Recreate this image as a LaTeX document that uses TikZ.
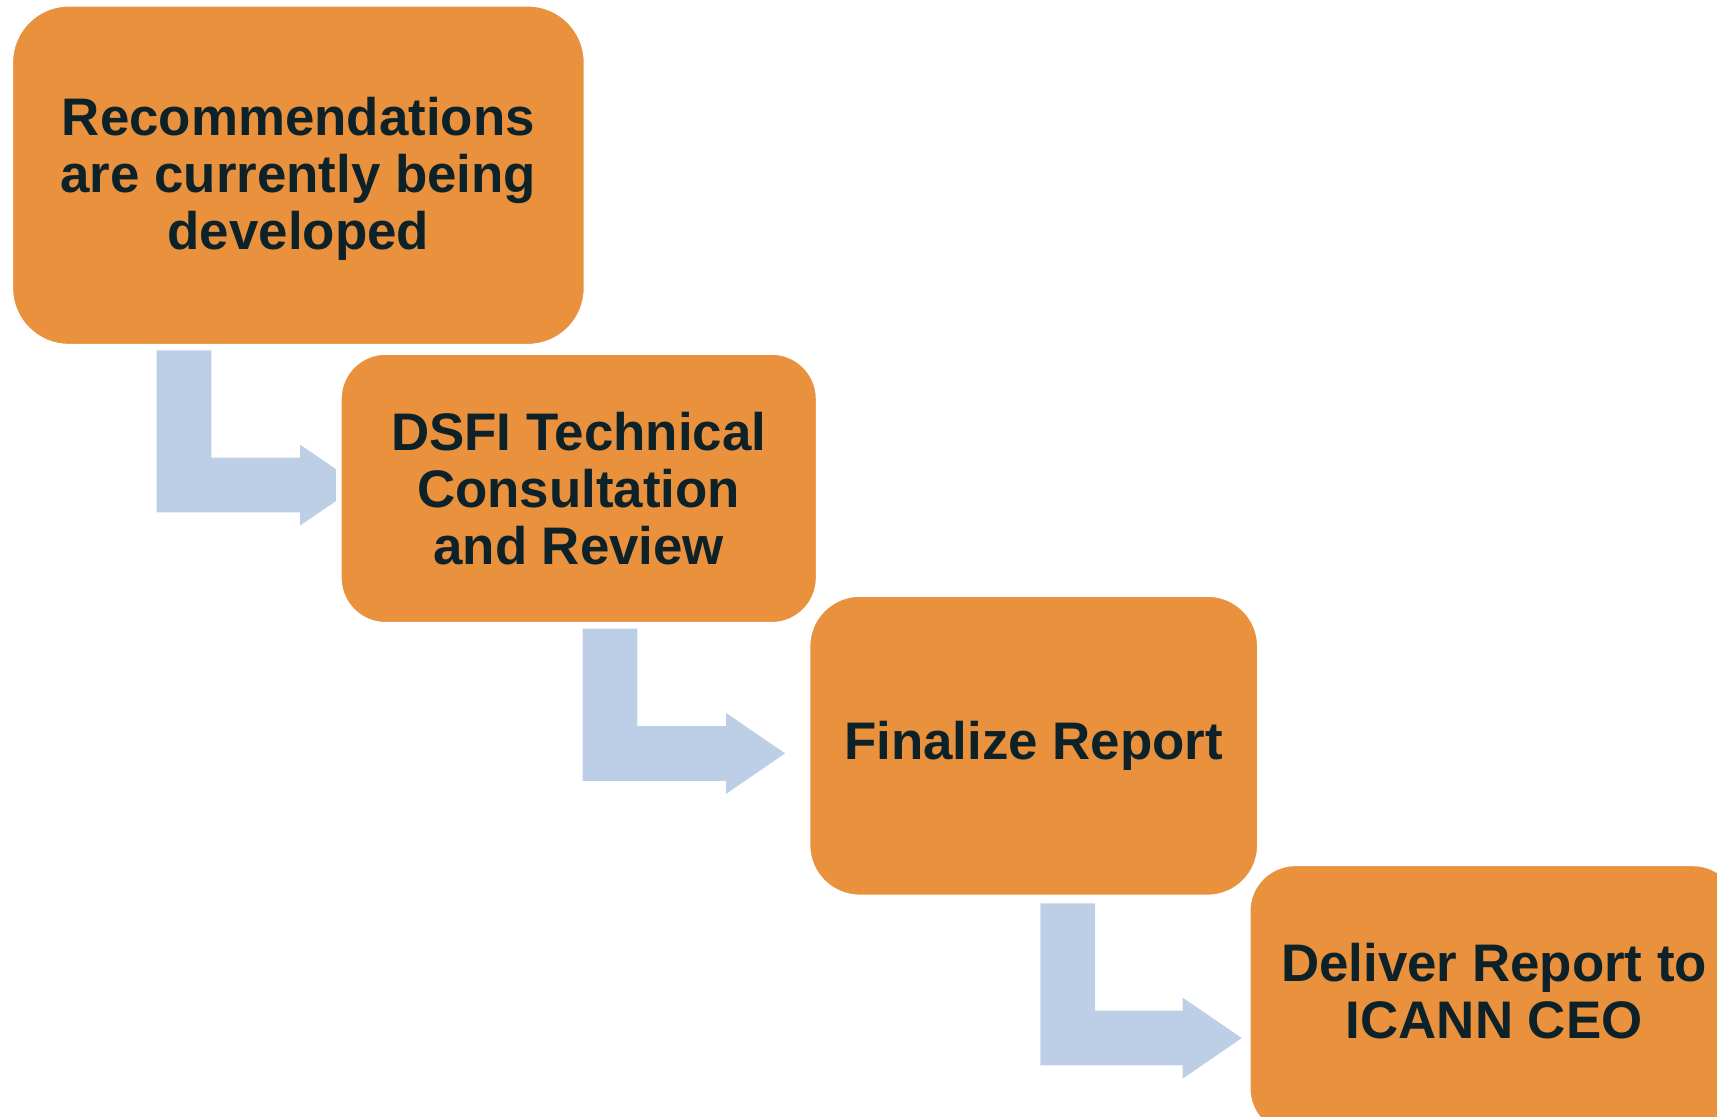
\documentclass[tikz,border=0pt]{standalone}
\usepackage{fontspec}
\setmainfont{Liberation Sans}
\usetikzlibrary{calc,backgrounds}
\definecolor{stage-orange}{RGB}{233,145,60}
\definecolor{flow-blue}{RGB}{189,207,230}
\definecolor{stage-ink}{RGB}{13,33,41}

% bent block arrow: #1 = top left of the shaft, #2 = tip
\newcommand{\elbowarrow}[2]{%
  \fill[flow-blue] (#1) -- ++(50,0) -- ($(#1 |- #2)+(50,-25)$) -- ($(#2)+(-54,-25)$) -- ++(0,-12) -- (#2)
    -- ($(#2)+(-54,37)$) -- ++(0,-12) -- ($(#1 |- #2)+(0,25)$) -- cycle;}

\begin{document}
\begin{tikzpicture}[x=0.3mm, y=-0.3mm, font=\bfseries\fontsize{41.2}{44.4}\selectfont,
	   stage/.style={draw=white, line width=1.5mm, fill=stage-orange, text=stage-ink, align=center, inner sep=0pt}]
	  \useasboundingbox (0,0) rectangle (1568,1020);
	  \node[stage, minimum width=15.78cm, minimum height=9.39cm, rounded corners=1.6cm, text height=124pt] (dev) at (272.5,160)
	    {Recommendations\\ are currently being\\ developed};
	  \node[stage, minimum width=13.14cm, minimum height=7.47cm, rounded corners=1.28cm] (review) at (528.5,446)
	    {DSFI Technical\\ Consultation\\ and Review};
	  \node[stage, minimum width=12.39cm, minimum height=8.31cm, rounded corners=1.43cm] (final) at (944,681)
	    {Finalize Report};
	  \node[stage, minimum width=13.5cm, minimum height=7.47cm, rounded corners=1.3cm, text height=61pt] (ceo) at (1364.5,913)
	    {Deliver Report to\\ ICANN CEO};
	  \coordinate (drop1) at (143,320); \coordinate (tip1) at (328,443);
	  \coordinate (drop2) at (532,574); \coordinate (tip2) at (717,688);
	  \coordinate (drop3) at (950,825); \coordinate (tip3) at (1134,948);
	  \begin{scope}[on background layer]
	    \elbowarrow{drop1}{tip1}
	    \elbowarrow{drop2}{tip2}
	    \elbowarrow{drop3}{tip3}
	  \end{scope}
	\end{tikzpicture}
\end{document}
